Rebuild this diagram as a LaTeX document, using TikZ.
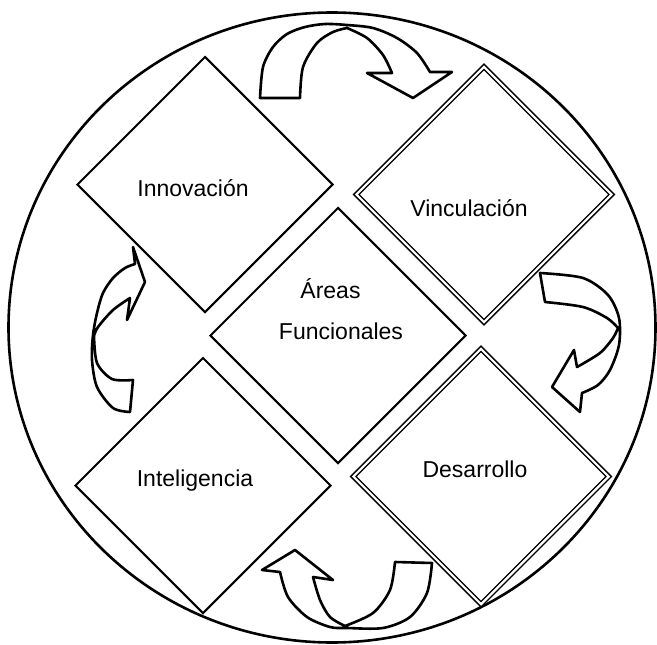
\documentclass[tikz,border=0pt]{standalone}
\usepackage{fontspec}
\setmainfont{Liberation Sans}
\usetikzlibrary{shapes.geometric}
\begin{document}
\begin{tikzpicture}[x=1pt,y=-1pt,
  dia/.style={draw=black, line width=2pt, diamond, minimum width=256pt, minimum height=256pt, inner sep=0pt, shape aspect=1},
  diadbl/.style={dia, line width=1.5pt, double, double distance=2.2pt},
  lbl/.style={font=\fontsize{23}{27}\selectfont, anchor=base, inner sep=0pt},
  carrow/.style={draw=black, fill=white, line width=2.6pt, line join=round},
  ring/.style={draw=black, line width=2.6pt, ellipse, inner sep=0pt}]
\useasboundingbox (0,0) rectangle (657,645);
\node[ring, minimum width=647pt, minimum height=630pt] (ring) at (332,327.5) {};
% diamonds
\node[dia] (innov) at (205,184.5) {};
\node[diadbl] (vinc) at (484,194.5) {};
\node[dia] (areas) at (338,335.5) {};
\node[dia] (intel) at (203,485.5) {};
\node[diadbl] (desa) at (481,476.5) {};
% labels
\node[lbl] (tinnov) at (193,196) {Innovación};
\node[lbl] (tvinc) at (469,216) {Vinculación};
\node[lbl] (tareasa) at (330.5,298) {Áreas};
\node[lbl] (tareasb) at (341,339) {Funcionales};
\node[lbl] (tintel) at (195,486) {Inteligencia};
\node[lbl] (tdesa) at (475,477) {Desarrollo};
% curved arrows
\draw[carrow] plot[smooth] coordinates {(260,98) (263,67) (273,47) (287,34) (305,27) (325,24) (347,25) (373,28) (397,38) (417,53) (430,72)}
  -- (452,72) -- (413,98) -- (367,73)
  -- plot[smooth] coordinates {(392,73) (383,55) (367,38) (347,28)}
  -- plot[smooth] coordinates {(347,28) (333,32) (317,43) (303,67) (300,98)} -- cycle;
\draw[carrow] plot[smooth] coordinates {(540,273) (583,278) (608,295) (619,318) (619,345) (610,370) (598,385) (582,393)}
  -- (580,412) -- (552,387) -- (574,350)
  -- plot[smooth] coordinates {(577,367) (600,353) (613,338) (618,328)}
  -- plot[smooth] coordinates {(618,328) (607,318) (583,307) (545,302)} -- cycle;
\draw[carrow] plot[smooth] coordinates {(432,563) (427,593) (410,617) (383,628) (347,628) (330,627) (307,617) (288,597) (280,572)}
  -- (262,570) -- (295,550) -- (333,580)
  -- plot[smooth] coordinates {(313,577) (320,600) (330,617) (345,626)}
  -- plot[smooth] coordinates {(345,626) (373,613) (390,590) (395,562)} -- cycle;
\draw[carrow] plot[smooth] coordinates {(130,412) (113,408) (97,387) (92,360) (93,335) (97,313) (103,293) (113,278) (125,268) (135,264)}
  -- (133,247) -- (145,282) -- (127,320)
  -- plot[smooth] coordinates {(130,298) (113,310) (98,327) (94,336)}
  -- plot[smooth] coordinates {(94,336) (97,363) (112,379) (133,380)} -- cycle;
\end{tikzpicture}
\end{document}
